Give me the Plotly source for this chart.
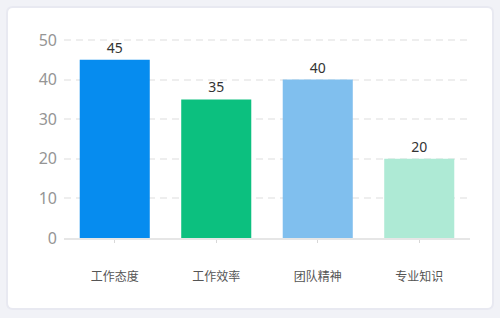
import plotly.graph_objects as go

# Evaluation dimensions and their scores
categories = ["工作态度", "工作效率", "团队精神", "专业知识"]
scores = [45, 35, 40, 20]
bar_colors = ["#068cef", "#0cc07f", "#80bfee", "#aeead5"]
y_ticks = [0, 10, 20, 30, 40, 50]

W, H = 500, 318
ML, MR, MT, MB = 64, 30, 38, 80
pw, ph = W - ML - MR, H - MT - MB


def px_to_paper(x, y):
    return (x - ML) / pw, (H - MB - y) / ph


def rounded_rect(x0, y0, x1, y1, r):
    # path in paper coordinates for a rectangle with rounded corners (pixel inputs)
    a = px_to_paper(x0 + r, y0)
    b = px_to_paper(x1 - r, y0)
    c = px_to_paper(x1, y0)
    d = px_to_paper(x1, y0 + r)
    e = px_to_paper(x1, y1 - r)
    f = px_to_paper(x1, y1)
    g = px_to_paper(x1 - r, y1)
    h = px_to_paper(x0 + r, y1)
    i = px_to_paper(x0, y1)
    j = px_to_paper(x0, y1 - r)
    k = px_to_paper(x0, y0 + r)
    l = px_to_paper(x0, y0)
    fmt = lambda p: f"{p[0]:.5f},{p[1]:.5f}"
    return (f"M{fmt(a)} L{fmt(b)} Q{fmt(c)} {fmt(d)} L{fmt(e)} Q{fmt(f)} {fmt(g)} "
            f"L{fmt(h)} Q{fmt(i)} {fmt(j)} L{fmt(k)} Q{fmt(l)} {fmt(a)} Z")


fig = go.Figure(
    go.Bar(
        x=categories,
        y=scores,
        marker=dict(color=bar_colors, line=dict(width=0)),
        text=scores,
        textposition="outside",
        cliponaxis=False,
        textfont=dict(size=14, color="#333333", family="Noto Sans, sans-serif"),
        hoverinfo="skip",
    )
)

shapes = [
    # soft shadow behind the card
    dict(type="path", xref="paper", yref="paper", layer="below",
         path=rounded_rect(6, 6, 494, 310, 7), fillcolor="#e8e9f1", line=dict(width=0)),
    # white card
    dict(type="path", xref="paper", yref="paper", layer="below",
         path=rounded_rect(8, 8, 492, 308, 5), fillcolor="#ffffff", line=dict(width=0)),
]

fig.update_layout(
    width=W,
    height=H,
    margin=dict(l=ML, r=MR, t=MT, b=MB),
    paper_bgcolor="#f1f2f7",
    plot_bgcolor="rgba(0,0,0,0)",
    bargap=0.31,
    showlegend=False,
    shapes=shapes,
    font=dict(family="Noto Sans CJK SC, Noto Sans, sans-serif"),
    xaxis=dict(
        showline=True,
        linecolor="#e6e6e6",
        linewidth=2,
        ticks="outside",
        ticklen=3,
        tickwidth=1,
        tickcolor="#d8d8d8",
        tickfont=dict(size=12, color="#555555", family="Noto Sans CJK SC"),
        ticklabelstandoff=24,
        showgrid=False,
        fixedrange=True,
    ),
    yaxis=dict(
        range=[0, 50.5],
        tickvals=y_ticks,
        showgrid=True,
        gridcolor="#eeeeee",
        gridwidth=2,
        griddash="7px,5px",
        zeroline=False,
        showline=False,
        tickfont=dict(size=16, color="#959595", family="Noto Sans, sans-serif"),
        ticklabelstandoff=6,
        fixedrange=True,
    ),
)

fig.write_html("out.html")
